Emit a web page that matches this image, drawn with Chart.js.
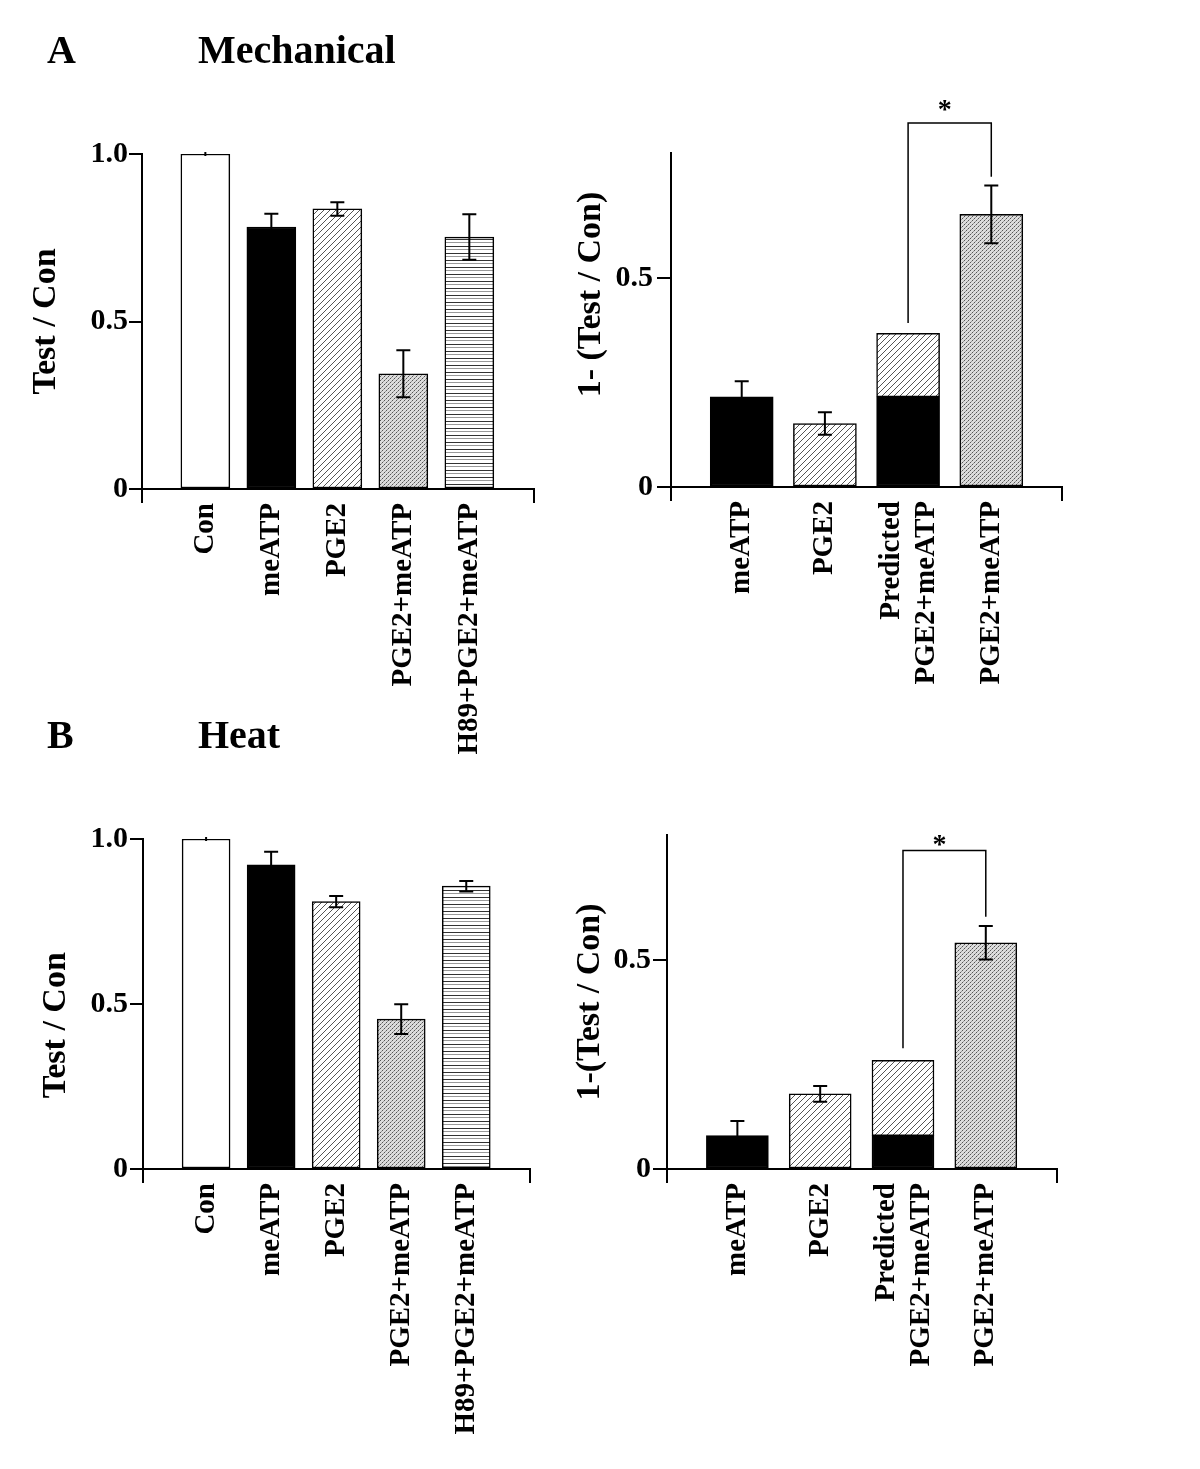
<!DOCTYPE html>
<html>
<head>
<meta charset="utf-8">
<script src="https://cdn.jsdelivr.net/npm/chart.js@4.4.1/dist/chart.umd.min.js"></script>
<style>
  body { margin: 0; background: #fff; }
  #wrap { position: relative; width: 1200px; height: 1469px; background: #fff; overflow: hidden; }
  #wrap canvas { position: absolute; left: 0; top: 0; width: 1200px; height: 1469px; }
  .lbl { position: absolute; font: bold 40px 'Liberation Serif', 'Times New Roman', serif; line-height: 40px; color: #000; white-space: nowrap; }
</style>
</head>
<body>
<div id="wrap">
  <canvas id="mechLeft" width="1200" height="1469"></canvas>
  <canvas id="mechRight" width="1200" height="1469"></canvas>
  <canvas id="heatLeft" width="1200" height="1469"></canvas>
  <canvas id="heatRight" width="1200" height="1469"></canvas>
  <div class="lbl" style="left:47px;top:30px">A</div>
  <div class="lbl" style="left:198px;top:30px">Mechanical</div>
  <div class="lbl" style="left:47px;top:715px">B</div>
  <div class="lbl" style="left:198px;top:715px">Heat</div>
</div>
<script>
// left panels: Test / Con
var leftLabels = ['Con', 'meATP', 'PGE2', 'PGE2+meATP', 'H89+PGE2+meATP'];
var mechLeftMeans = [1.0, 0.782, 0.836, 0.344, 0.752];
var mechLeftErr = [0.003, 0.04, 0.02, 0.07, 0.068];
var heatLeftMeans = [1.0, 0.922, 0.81, 0.454, 0.857];
var heatLeftErr = [0.003, 0.039, 0.017, 0.045, 0.016];
var leftTicks = [0, 0.5, 1.0];

// right panels: 1-(Test / Con); order meATP, PGE2, PGE2+meATP (measured)
// the "Predicted" bar is meATP + PGE2 stacked
var rightLabels = ['meATP', 'PGE2', ['Predicted', 'PGE2+meATP'], 'PGE2+meATP'];
var mechRightMeans = [0.216, 0.152, 0.653];
var mechRightErr = [0.037, 0.027, 0.069];
var heatRightMeans = [0.08, 0.18, 0.542];
var heatRightErr = [0.035, 0.019, 0.04];
var rightTicks = [0, 0.5];

// significance bracket (data units): between bar 2 and bar 3
var mechSig = { from: 2, to: 3, top: 0.872, leftEnd: 0.393, rightEnd: 0.743, star: 0.917 };
var heatSig = { from: 2, to: 3, top: 0.763, leftEnd: 0.289, rightEnd: 0.604, star: 0.791 };

Chart.defaults.font.family = "'Liberation Serif', 'Times New Roman', serif";
Chart.defaults.color = '#000';

function makeTile(w, h, draw) {
  var c = document.createElement('canvas');
  c.width = w; c.height = h;
  var g = c.getContext('2d');
  g.fillStyle = '#fff';
  g.fillRect(0, 0, w, h);
  draw(g);
  return g.createPattern(c, 'repeat');
}

var hatch = makeTile(6, 6, function (g) {
  g.strokeStyle = '#555';
  g.lineWidth = 1;
  g.beginPath();
  g.moveTo(0, 6); g.lineTo(6, 0);
  g.moveTo(-1, 1); g.lineTo(1, -1);
  g.moveTo(5, 7); g.lineTo(7, 5);
  g.stroke();
});
var stipple = makeTile(4, 4, function (g) {
  g.fillStyle = '#dcdcdc';
  g.fillRect(0, 0, 4, 4);
  g.fillStyle = '#555';
  g.fillRect(0, 0, 1, 1); g.fillRect(2, 2, 1, 1);
  g.fillStyle = '#999';
  g.fillRect(1, 3, 1, 1); g.fillRect(3, 1, 1, 1);
});
var hlines = makeTile(4, 7, function (g) {
  g.fillStyle = '#333'; g.fillRect(0, 1, 4, 1);
  g.fillStyle = '#999'; g.fillRect(0, 4, 4, 1);
});
var leftFills = ['#fff', '#000', hatch, stipple, hlines];

var errorBars = {
  id: 'errorBars',
  afterDatasetsDraw: function (chart) {
    var ctx = chart.ctx, ys = chart.scales.y;
    chart.data.datasets.forEach(function (ds, di) {
      if (!ds.errors) return;
      var meta = chart.getDatasetMeta(di);
      meta.data.forEach(function (bar, i) {
        var e = ds.errors[i];
        if (e == null) return;
        var v = ds.data[i].y;
        var x = bar.x, top = ys.getPixelForValue(v + e), bot = ys.getPixelForValue(v - e);
        var cap = e < 0.005 ? 1 : 7;
        ctx.save();
        ctx.strokeStyle = '#000';
        ctx.lineWidth = 2;
        ctx.beginPath();
        ctx.moveTo(x, top); ctx.lineTo(x, bot);
        ctx.moveTo(x - cap, top); ctx.lineTo(x + cap, top);
        ctx.moveTo(x - cap, bot); ctx.lineTo(x + cap, bot);
        ctx.stroke();
        ctx.restore();
      });
    });
  }
};

var bracket = {
  id: 'bracket',
  afterDraw: function (chart, args, opts) {
    var s = opts.sig;
    if (!s) return;
    var ctx = chart.ctx, xs = chart.scales.x, ys = chart.scales.y;
    var x1 = xs.getPixelForValue(s.from), x2 = xs.getPixelForValue(s.to);
    var yt = ys.getPixelForValue(s.top);
    ctx.save();
    ctx.strokeStyle = '#000';
    ctx.lineWidth = 1.5;
    ctx.beginPath();
    ctx.moveTo(x1, ys.getPixelForValue(s.leftEnd));
    ctx.lineTo(x1, yt);
    ctx.lineTo(x2, yt);
    ctx.lineTo(x2, ys.getPixelForValue(s.rightEnd));
    ctx.stroke();
    ctx.fillStyle = '#000';
    ctx.font = "bold 28px 'Liberation Serif', serif";
    ctx.textAlign = 'center';
    ctx.textBaseline = 'alphabetic';
    ctx.fillText('*', (x1 + x2) / 2 - 5, ys.getPixelForValue(s.star) + 14);
    ctx.restore();
  }
};

function panel(id, geo, labels, datasets, yMax, yTicks, title, barW, sig) {
  var n = labels.length;
  var padLeft = geo.titleX - 20.4;
  return new Chart(document.getElementById(id), {
    type: 'bar',
    data: { datasets: datasets },
    plugins: [errorBars, bracket],
    options: {
      responsive: false,
      animation: false,
      layout: { padding: { left: padLeft, top: geo.top, right: 1200 - geo.right, bottom: 1469 - geo.bottom - 300 } },
      plugins: { legend: { display: false }, tooltip: { enabled: false }, bracket: { sig: sig } },
      datasets: { bar: { barThickness: barW, borderColor: '#000', borderWidth: 1.5, borderSkipped: false } },
      scales: {
        x: {
          type: 'linear', min: geo.xMin, max: geo.xMax, stacked: true, offset: false,
          afterBuildTicks: function (sc) {
            var vals = [geo.xMin];
            labels.forEach(function (l, i) { vals.push(Array.isArray(l) ? i - 0.2 : i); });
            vals.push(geo.xMax);
            sc.ticks = vals.map(function (v) { return { value: v }; });
          },
          afterFit: function (sc) { sc.height = 300; },
          ticks: {
            autoSkip: false, minRotation: 90, maxRotation: 90, padding: 0, color: '#000',
            font: { size: 29, weight: 'bold' },
            callback: function (v, i) { return (i === 0 || i === n + 1) ? '' : labels[i - 1]; }
          },
          grid: {
            offset: false, drawOnChartArea: false, drawTicks: true, tickLength: 14, lineWidth: 2,
            color: function (c) { return (c.index === 0 || c.index === n + 1) ? '#000' : 'rgba(0,0,0,0)'; }
          },
          border: { display: true, color: '#000', width: 2 }
        },
        y: {
          min: 0, max: yMax, stacked: true,
          afterBuildTicks: function (sc) { sc.ticks = yTicks.map(function (v) { return { value: v }; }); },
          afterFit: function (sc) { sc.width = geo.left - padLeft; },
          ticks: {
            padding: geo.tickPad, color: '#000', font: { size: 30, weight: 'bold' },
            callback: function (v) { return v === 0 ? '0' : v.toFixed(1); }
          },
          grid: { drawOnChartArea: false, drawTicks: true, tickLength: geo.tickLen, lineWidth: 2, color: '#000' },
          border: { display: true, color: '#000', width: 2 },
          title: { display: true, text: title, color: '#000', padding: 0, font: { size: 34, weight: 'bold', lineHeight: 1.2 } }
        }
      }
    }
  });
}

function leftDatasets(means, errs) {
  return [{
    data: means.map(function (v, i) { return { x: i, y: v }; }),
    backgroundColor: leftFills,
    errors: errs
  }];
}

function rightDatasets(means, errs) {
  return [
    { data: [{ x: 0, y: means[0] }, { x: 2, y: means[0] }], backgroundColor: '#000', errors: [errs[0], null] },
    { data: [{ x: 1, y: means[1] }, { x: 2, y: means[1] }], backgroundColor: hatch, errors: [errs[1], null] },
    { data: [{ x: 3, y: means[2] }], backgroundColor: stipple, errors: [errs[2]] }
  ];
}

var nb = '\u00a0';

panel('mechLeft',
  { left: 142, right: 534, top: 154, bottom: 489, titleX: 46, xMin: -0.96, xMax: 4.98, tickLen: 13, tickPad: 1 },
  leftLabels, leftDatasets(mechLeftMeans, mechLeftErr), 1.0, leftTicks, 'Test / Con', 49, null);

panel('mechRight',
  { left: 671, right: 1062, top: 153, bottom: 487, titleX: 591, xMin: -0.85, xMax: 3.85, tickLen: 14, tickPad: 4 },
  rightLabels, rightDatasets(mechRightMeans, mechRightErr), 0.8, rightTicks, nb.repeat(6) + '1- (Test / Con)', 63, mechSig);

panel('heatLeft',
  { left: 143, right: 530, top: 839, bottom: 1169, titleX: 56, xMin: -0.97, xMax: 4.98, tickLen: 13, tickPad: 2 },
  leftLabels, leftDatasets(heatLeftMeans, heatLeftErr), 1.0, leftTicks, 'Test / Con' + nb.repeat(5), 48, null);

panel('heatRight',
  { left: 667, right: 1057, top: 835, bottom: 1169, titleX: 590, xMin: -0.85, xMax: 3.86, tickLen: 14, tickPad: 2 },
  rightLabels, rightDatasets(heatRightMeans, heatRightErr), 0.8, rightTicks, '1-(Test / Con)', 62, heatSig);
</script>
</body>
</html>
